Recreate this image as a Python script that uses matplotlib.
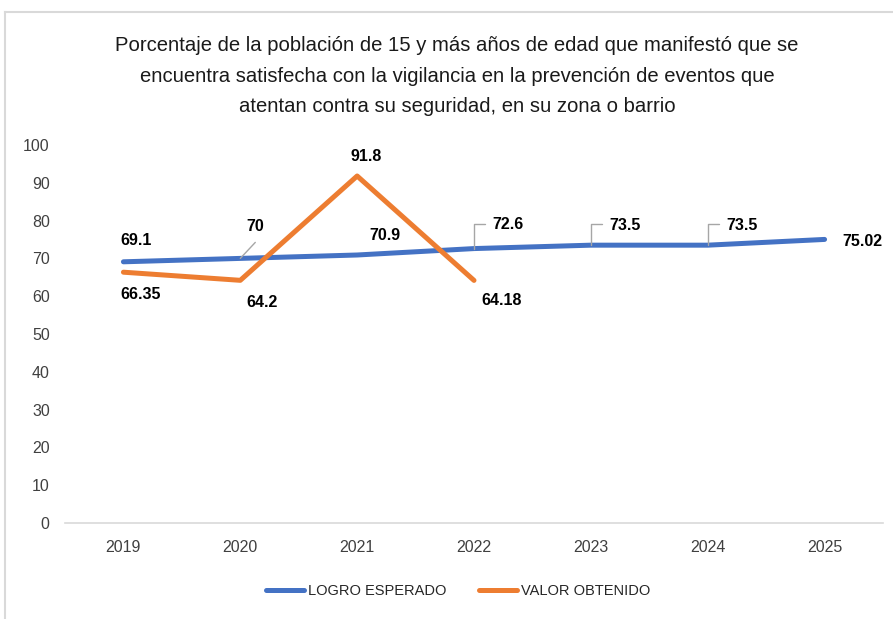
import matplotlib
matplotlib.use("Agg")
from matplotlib import pyplot as plt
from matplotlib.lines import Line2D
import numpy as np

plt.rcParams['font.family'] = ['Liberation Sans', 'DejaVu Sans']

years = ['2019', '2020', '2021', '2022', '2023', '2024', '2025']
logro_esperado = [69.1, 70, 70.9, 72.6, 73.5, 73.5, 75.02]
valor_obtenido = [66.35, 64.2, 91.8, 64.18]
title = ('Porcentaje de la población de 15 y más años de edad que manifestó que se\n'
         'encuentra satisfecha con la vigilancia en la prevención de eventos que\n'
         'atentan contra su seguridad, en su zona o barrio')

blue = '#4472C4'
orange = '#ED7D31'
gray = '#D9D9D9'

fig = plt.figure(figsize=(8.93, 6.19), dpi=100)
ax = fig.add_axes([65/893, 1-523/619, (883-65)/893, (523-145)/619])

x = np.arange(len(years))
ax.plot(x, logro_esperado, color=blue, lw=3.6, solid_capstyle='round', solid_joinstyle='round', zorder=3)
ax.plot(x[:len(valor_obtenido)], valor_obtenido, color=orange, lw=3.6,
        solid_capstyle='round', solid_joinstyle='round', zorder=3)

ax.set_xlim(-0.5, len(years)-0.5)
ax.set_ylim(0, 100)
ax.set_yticks(range(0, 101, 10))
ax.set_xticks(x, labels=years)
ax.tick_params(axis='both', length=0, labelsize=11.5, colors='#404040')
ax.tick_params(axis='y', pad=11)
ax.tick_params(axis='x', pad=12)
for s in ['top', 'right', 'left']:
    ax.spines[s].set_visible(False)
ax.spines['bottom'].set_color(gray)
ax.spines['bottom'].set_linewidth(1.2)

# data labels (offsets in pixels)
blue_off = [(13, 21), (15, 32), (28, 19), (34, 24), (34, 20), (34, 20), (38, -2)]
orange_off = [(17, -22), (22, -22), (9, 19), (28, -20)]
lab_kw = dict(textcoords='offset pixels', ha='center', va='center',
              fontsize=11.5, fontweight='bold', color='black', zorder=5)
for i, v in enumerate(logro_esperado):
    ax.annotate(f'{v:g}', (x[i], v), xytext=blue_off[i], **lab_kw)
for i, v in enumerate(valor_obtenido):
    ax.annotate(f'{v:g}', (x[i], v), xytext=orange_off[i], **lab_kw)

# leader lines
lead_col = '#A6A6A6'
ax.annotate('', (x[1], logro_esperado[1]), xytext=(15, 16), textcoords='offset pixels',
            arrowprops=dict(arrowstyle='-', color=lead_col, lw=1, shrinkA=0, shrinkB=0), zorder=4)
for i, dy in [(3, 25), (4, 21), (5, 21)]:
    ax.annotate('', (x[i], logro_esperado[i]), xytext=(11, dy), textcoords='offset pixels',
                arrowprops=dict(arrowstyle='-', color=lead_col, lw=1, shrinkA=0, shrinkB=0,
                                connectionstyle='angle,angleA=0,angleB=90,rad=0'), zorder=4)

fig.suptitle(title, x=457/893, y=1-36/619, va='top', fontsize=14.6, color='#1a1a1a', linespacing=1.78)

handles = [Line2D([], [], color=blue, lw=3.6, solid_capstyle='round'),
           Line2D([], [], color=orange, lw=3.6, solid_capstyle='round')]
fig.legend(handles, ['LOGRO ESPERADO', 'VALOR OBTENIDO'], loc='center',
           bbox_to_anchor=(458/893, 1-591/619), ncol=2, frameon=False, fontsize=10.5,
           handlelength=2.6, handletextpad=0.3, columnspacing=2.2, labelcolor='#262626')

# chart frame (cropped at right and bottom)
fig.add_artist(Line2D([5/893, 5/893], [0, 1-12/619], color=gray, lw=1.5, transform=fig.transFigure))
fig.add_artist(Line2D([5/893, 1], [1-12/619, 1-12/619], color=gray, lw=1.5, transform=fig.transFigure))

fig.savefig('out.png', dpi=100)
